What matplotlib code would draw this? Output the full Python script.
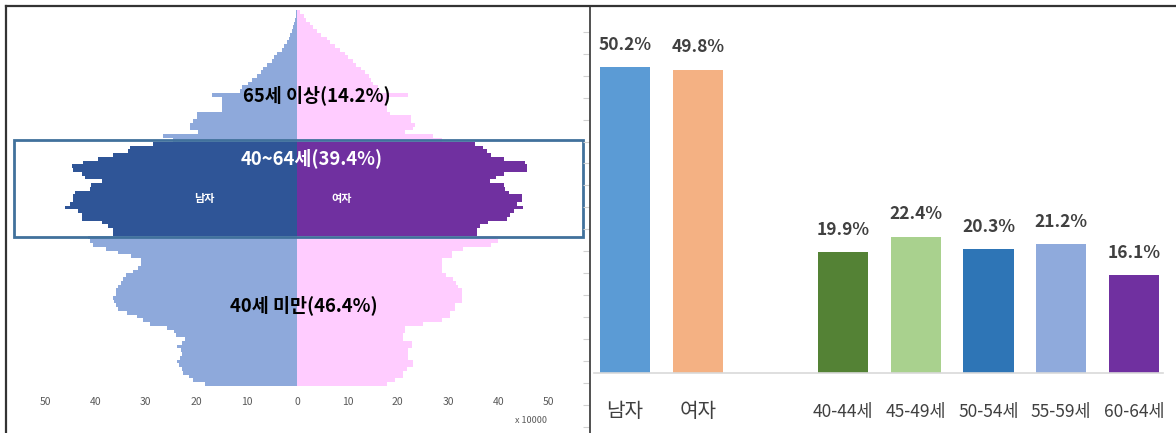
import numpy as np
import matplotlib
matplotlib.use("Agg")
import matplotlib.pyplot as plt
from matplotlib.patches import Rectangle
from matplotlib.lines import Line2D

plt.rcParams['font.family'] = ['Noto Sans CJK KR', 'DejaVu Sans']

# --- data: single-year population pyramid (unit: 10,000 persons), age 0..99 ---
ages = np.arange(100)
male = [
    18.3, 20.6, 21.5, 22.6, 22.8, 23.5, 23.8, 23.2, 22.8, 23.0,
    23.8, 22.8, 22.2, 24.0, 24.5, 25.8, 29.2, 30.5, 31.7, 33.7,
    35.5, 36.0, 36.3, 36.5, 36.0, 36.0, 35.5, 35.0, 34.5, 34.0,
    32.5, 31.5, 31.0, 31.0, 33.0, 35.5, 38.0, 40.5, 41.0, 41.4,
    36.5, 36.5, 37.5, 38.8, 42.7, 42.7, 43.4, 46.0, 45.0, 44.4,
    44.4, 44.0, 41.0, 40.8, 38.8, 42.0, 42.7, 44.5, 44.7, 42.5,
    39.5, 36.5, 33.5, 33.1, 28.5, 24.6, 26.6, 19.6, 21.2, 21.2,
    20.6, 19.8, 19.8, 14.9, 14.9, 14.9, 14.9, 16.9, 11.3, 11.0,
    9.7, 9.0, 8.0, 7.2, 6.7, 6.0, 5.0, 4.5, 4.0, 3.0,
    2.5, 2.0, 1.6, 1.4, 1.0, 0.8, 0.5, 0.3, 0.2, 0.1,
]
female = [
    17.8, 19.5, 21.0, 21.0, 21.8, 23.0, 23.0, 22.0, 22.0, 22.0,
    22.8, 22.8, 21.0, 21.0, 21.4, 21.4, 25.0, 28.7, 30.4, 30.4,
    31.3, 31.3, 32.7, 32.7, 32.7, 32.7, 32.0, 31.5, 31.0, 29.6,
    28.8, 28.8, 28.8, 28.8, 30.7, 30.7, 33.0, 38.6, 40.0, 40.3,
    35.7, 35.7, 36.3, 37.9, 41.6, 42.3, 43.0, 44.9, 43.6, 44.6,
    44.6, 42.0, 41.3, 41.0, 38.3, 39.6, 41.0, 45.6, 45.6, 45.2,
    41.0, 38.5, 37.7, 37.0, 35.3, 28.7, 27.0, 21.4, 23.1, 23.4,
    22.7, 22.7, 18.5, 17.8, 17.8, 17.8, 17.8, 22.0, 16.5, 16.0,
    15.1, 14.6, 14.2, 13.5, 12.8, 11.8, 11.1, 10.2, 9.5, 8.5,
    7.5, 6.5, 5.9, 4.8, 3.9, 3.2, 2.6, 1.8, 1.3, 0.6,
]
pyr_ticks = [-50, -40, -30, -20, -10, 0, 10, 20, 30, 40, 50]

# --- data: right bar chart ---
bar_labels = ['남자', '여자', '40-44세', '45-49세', '50-54세', '55-59세', '60-64세']
bar_values = [50.2, 49.8, 19.9, 22.4, 20.3, 21.2, 16.1]
bar_pos = [0, 1, 3, 4, 5, 6, 7]
bar_colors = ['#5B9BD5', '#F4B183', '#548235', '#A9D18E', '#2E75B6', '#8FAADC', '#7030A0']

W, H = 1176, 433
fig = plt.figure(figsize=(W / 100, H / 100), dpi=100)

# ---------------- left: population pyramid ----------------
ax = fig.add_axes([25 / W, (H - 386) / H, 544 / W, 378 / H])
mid = (ages >= 40) & (ages <= 64)
m_col = np.where(mid, '#2F5597', '#8EA9DB')
f_col = np.where(mid, '#7030A0', '#FFCCFF')
ax.barh(ages, -np.array(male), height=1.0, align='edge', color=m_col, linewidth=0)
ax.barh(ages, female, height=1.0, align='edge', color=f_col, linewidth=0)
ax.set_xlim(-54, 54)
ax.set_ylim(0, 100.6)
ax.set_xticks(pyr_ticks)
ax.set_xticklabels([str(abs(t)) for t in pyr_ticks], fontsize=7.5, color='#595959')
ax.tick_params(axis='x', length=0, pad=8)
ax.set_yticks([])
for s in ax.spines.values():
    s.set_visible(False)

ax.text(46.5, -0.09, 'x 10000', transform=ax.get_xaxis_transform(),
        fontsize=6.5, color='#595959', ha='center', va='center')

# highlight box for 40-64
ax.add_patch(Rectangle((-0.0202, 39.7), 1.046, 25.8, transform=ax.get_yaxis_transform(),
                       fill=False, edgecolor='#41719C', linewidth=2, clip_on=False, zorder=4))

ax.text(3.9, 77.5, '65세 이상(14.2%)', fontsize=13.3, fontweight='bold', color='black',
        ha='center', va='center')
ax.text(3.0, 60.6, '40~64세(39.4%)', fontsize=13.3, fontweight='bold', color='white',
        ha='center', va='center')
ax.text(-18.3, 49.8, '남자', fontsize=8, fontweight='bold', color='white',
        ha='center', va='center')
ax.text(8.9, 49.8, '여자', fontsize=8, fontweight='bold', color='white',
        ha='center', va='center')
ax.text(1.4, 21.5, '40세 미만(46.4%)', fontsize=13.3, fontweight='bold', color='black',
        ha='center', va='center')

# faint tick marks on right edge of left panel
axt = fig.add_axes([589 / W, (H - 427) / H, 0.0001, (427 - 31.7) / H])
axt.set_ylim(0, 18)
axt.set_yticks(range(19))
axt.set_xticks([])
axt.tick_params(axis='y', length=4.3, color='#D0D0D0', labelleft=False)
for s in axt.spines.values():
    s.set_visible(False)

# ---------------- right: bar chart ----------------
bx = fig.add_axes([594 / W, (H - 373) / H, 569 / W, 365 / H])
bx.bar(bar_pos, bar_values, width=0.69, color=bar_colors)
bx.set_xlim(-0.426, 7.40)
bx.set_ylim(0, 59.9)
bx.set_yticks([])
for s in ['top', 'left', 'right']:
    bx.spines[s].set_visible(False)
bx.spines['bottom'].set_color('#D9D9D9')
bx.spines['bottom'].set_linewidth(1.2)
bx.set_xticks(bar_pos)
bx.set_xticklabels(bar_labels, color='#404040')
bx.tick_params(axis='x', length=0, pad=32)
for i, lab in enumerate(bx.get_xticklabels()):
    lab.set_fontsize(14.5 if i < 2 else 12.5)
    lab.set_va('baseline')
for p, v in zip(bar_pos, bar_values):
    bx.annotate(f'{v}%', (p, v), xytext=(0, 16), textcoords='offset points',
                ha='center', va='center', fontsize=12.5, fontweight='bold', color='#404040')

# frame lines of the original image
fig.add_artist(Line2D([6 / W, 1], [1 - 6 / H, 1 - 6 / H], color='#333333', linewidth=1.6))
fig.add_artist(Line2D([6 / W, 6 / W], [0, 1 - 6 / H], color='#333333', linewidth=1.6))
fig.add_artist(Line2D([590 / W, 590 / W], [0, 1 - 6 / H], color='#333333', linewidth=1.2))

fig.savefig('out.png', dpi=100)
